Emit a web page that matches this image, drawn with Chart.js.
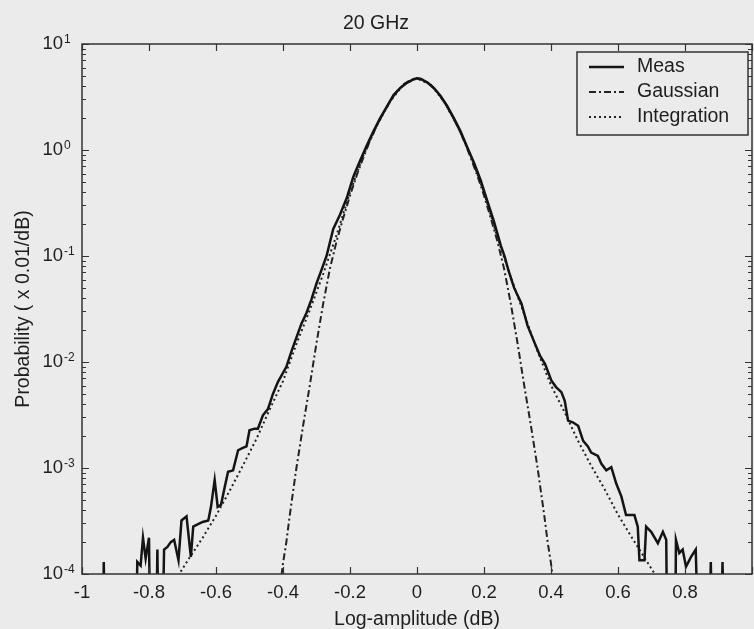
<!DOCTYPE html>
<html><head><meta charset="utf-8">
<style>html,body{margin:0;padding:0;background:#ebebeb;overflow:hidden}#wrap{width:754px;height:629px}</style>
<script src="https://cdn.jsdelivr.net/npm/chart.js@4.4.1/dist/chart.umd.min.js"></script>
</head><body><div id="wrap"><canvas id="c" width="754" height="629"></canvas></div>
<script>
const titleText = '20 GHz';
const xLabel = 'Log-amplitude (dB)';
const yLabel = 'Probability ( x 0.01/dB)';
const seriesNames = ['Meas', 'Gaussian', 'Integration'];
const xTicks = [-1, -0.8, -0.6, -0.4, -0.2, 0, 0.2, 0.4, 0.6, 0.8, 1];
const xTickLabels = ['-1', '-0.8', '-0.6', '-0.4', '-0.2', '0', '0.2', '0.4', '0.6', '0.8', ''];
const yTicks = [1e-4, 1e-3, 1e-2, 1e-1, 1, 10];
const yExponents = ['-4', '-3', '-2', '-1', '0', '1'];

const measX = [-0.95,-0.94,-0.935,-0.93,-0.85,-0.84,-0.835,-0.825,-0.818,-0.81,-0.8,-0.795,-0.78,-0.775,-0.77,-0.762,-0.755,-0.745,-0.735,-0.725,-0.712,-0.703,-0.688,-0.675,-0.668,-0.658,-0.64,-0.623,-0.615,-0.604,-0.595,-0.585,-0.574,-0.564,-0.549,-0.534,-0.52,-0.509,-0.5,-0.485,-0.475,-0.46,-0.445,-0.43,-0.415,-0.4,-0.39,-0.375,-0.36,-0.345,-0.33,-0.315,-0.3,-0.285,-0.27,-0.25,-0.23,-0.21,-0.19,-0.17,-0.15,-0.13,-0.11,-0.09,-0.07,-0.05,-0.03,-0.01,0,0.01,0.03,0.05,0.07,0.09,0.11,0.13,0.15,0.17,0.19,0.21,0.23,0.25,0.262,0.273,0.29,0.312,0.33,0.352,0.367,0.382,0.401,0.415,0.431,0.441,0.451,0.465,0.481,0.496,0.51,0.52,0.54,0.55,0.565,0.58,0.595,0.61,0.624,0.649,0.659,0.664,0.679,0.684,0.699,0.719,0.734,0.744,0.748,0.77,0.773,0.783,0.793,0.803,0.818,0.832,0.843,0.87,0.877,0.884,0.905,0.912,0.919,0.95];
const measY = [1e-5,1e-5,1.3e-4,1e-5,1e-5,1e-5,1.3e-4,1.2e-4,2.2e-4,1.4e-4,2.2e-4,1e-5,1e-5,1.7e-4,1e-5,1e-5,1.7e-4,1.8e-4,2.0e-4,2.1e-4,1.35e-4,3.2e-4,3.5e-4,1.45e-4,2.8e-4,2.9e-4,3.1e-4,3.2e-4,4.3e-4,7.7e-4,4.3e-4,4.5e-4,6.6e-4,9.2e-4,9.5e-4,1.47e-3,1.55e-3,1.6e-3,2.27e-3,2.35e-3,2.35e-3,3.14e-3,3.6e-3,5.0e-3,6.5e-3,7.9e-3,9.0e-3,1.25e-2,1.7e-2,2.3e-2,2.9e-2,3.9e-2,5.5e-2,7.4e-2,0.1,0.18,0.245,0.35,0.56,0.79,1.1,1.5,2.0,2.57,3.3,3.85,4.3,4.65,4.75,4.7,4.35,3.85,3.25,2.6,2.0,1.5,1.06,0.76,0.52,0.33,0.21,0.126,0.098,0.073,0.05,0.0355,0.022,0.0149,0.0115,0.0096,0.0067,0.0058,0.0052,0.0043,0.0028,0.0027,0.0025,0.0018,0.0016,0.0014,0.0013,0.0011,0.00095,0.00102,0.00071,0.00054,0.00036,0.00036,0.00028,0.000135,0.000135,0.00028,0.00025,0.000195,0.00025,0.00021,1e-5,1e-5,0.00021,0.000158,0.00017,0.000117,0.000145,0.00017,1e-5,1e-5,0.00013,1e-5,1e-5,0.00013,1e-5,1e-5];

const gaussX = [-0.41,-0.4,-0.39,-0.38,-0.36,-0.34,-0.32,-0.3,-0.28,-0.26,-0.24,-0.22,-0.2,-0.18,-0.16,-0.14,-0.12,-0.1,-0.08,-0.06,-0.04,-0.02,0,0.02,0.04,0.06,0.08,0.1,0.12,0.14,0.16,0.18,0.2,0.22,0.24,0.26,0.28,0.3,0.32,0.34,0.36,0.38,0.39,0.4,0.41];
const gaussY = [0.0000708,0.000126,0.0002,0.000355,0.001,0.00251,0.00603,0.0151,0.0355,0.0759,0.138,0.229,0.372,0.575,0.851,1.23,1.70,2.24,2.88,3.55,4.17,4.57,4.73,4.57,4.17,3.55,2.88,2.24,1.70,1.23,0.851,0.575,0.372,0.229,0.138,0.0759,0.0355,0.0151,0.00603,0.00251,0.001,0.000355,0.0002,0.000126,0.0000708];

const integX = [-0.76,-0.72,-0.68,-0.64,-0.6,-0.56,-0.52,-0.48,-0.44,-0.4,-0.36,-0.32,-0.28,-0.24,-0.2,-0.16,-0.12,-0.08,-0.04,0,0.04,0.08,0.12,0.16,0.2,0.24,0.28,0.32,0.36,0.4,0.44,0.48,0.52,0.56,0.6,0.64,0.68,0.72,0.76];
const integY = [0.000055,0.0000891,0.000141,0.000219,0.000355,0.000603,0.00105,0.00186,0.00355,0.00661,0.0148,0.0309,0.0676,0.158,0.398,0.891,1.70,2.88,4.17,4.73,4.17,2.88,1.70,0.891,0.398,0.15,0.0631,0.0282,0.0126,0.00603,0.00339,0.00182,0.00105,0.000631,0.000363,0.000224,0.000141,0.0000891,0.000055];

const FONT = "'Liberation Sans', Arial, Helvetica, sans-serif";
const INK = '#1e1e1e';
const AXIS = '#333333';

function pts(xs, ys) { return xs.map((x, i) => ({ x: x, y: ys[i] })); }

const framePlugin = {
  id: 'frame',
  afterDraw(chart) {
    const ctx = chart.ctx, a = chart.chartArea;
    const xs = chart.scales.x, ys = chart.scales.y;
    ctx.save();
    ctx.strokeStyle = AXIS;
    ctx.lineWidth = 1.5;
    ctx.strokeRect(a.left, a.top, a.right - a.left, a.bottom - a.top);
    ctx.lineWidth = 1.2;
    ctx.beginPath();
    xTicks.forEach(v => {
      const px = Math.round(xs.getPixelForValue(v)) + 0.5;
      ctx.moveTo(px, a.bottom); ctx.lineTo(px, a.bottom - 7);
      ctx.moveTo(px, a.top); ctx.lineTo(px, a.top + 7);
    });
    yTicks.forEach((v, i) => {
      const py = Math.round(ys.getPixelForValue(v)) + 0.5;
      ctx.moveTo(a.left, py); ctx.lineTo(a.left + 7, py);
      ctx.moveTo(a.right, py); ctx.lineTo(a.right - 7, py);
      if (i < yTicks.length - 1) {
        for (let k = 2; k <= 9; k++) {
          const qy = Math.round(ys.getPixelForValue(v * k)) + 0.5;
          ctx.moveTo(a.left, qy); ctx.lineTo(a.left + 4, qy);
          ctx.moveTo(a.right, qy); ctx.lineTo(a.right - 4, qy);
        }
      }
    });
    ctx.stroke();
    ctx.fillStyle = INK;
    ctx.font = '12px ' + FONT;
    ctx.textAlign = 'left';
    ctx.textBaseline = 'alphabetic';
    yTicks.forEach((v, i) => {
      const py = ys.getPixelForValue(v);
      ctx.fillText(yExponents[i], a.left - 18, py - 1);
    });
    const bx = 577, by = 52, bw = 171, bh = 83;
    ctx.fillStyle = '#ebebeb';
    ctx.fillRect(bx, by, bw, bh);
    ctx.strokeStyle = AXIS;
    ctx.lineWidth = 1.5;
    ctx.strokeRect(bx, by, bw, bh);
    ctx.font = '19.5px ' + FONT;
    ctx.textBaseline = 'middle';
    chart.data.datasets.forEach((ds, i) => {
      const ly = by + 15 + i * 25;
      ctx.save();
      ctx.strokeStyle = ds.borderColor;
      ctx.lineWidth = ds.borderWidth;
      ctx.setLineDash(ds.borderDash || []);
      ctx.beginPath(); ctx.moveTo(589, ly); ctx.lineTo(624, ly); ctx.stroke();
      ctx.restore();
      ctx.fillStyle = INK;
      ctx.fillText(ds.label, 637, ly);
    });
    ctx.restore();
  }
};

new Chart(document.getElementById('c'), {
  type: 'line',
  data: {
    datasets: [
      { label: seriesNames[0], data: pts(measX, measY), borderColor: '#141414', borderWidth: 2.5, pointRadius: 0, tension: 0, fill: false },
      { label: seriesNames[1], data: pts(gaussX, gaussY), borderColor: '#222222', borderWidth: 2, borderDash: [7, 3, 2, 3], pointRadius: 0, tension: 0, fill: false },
      { label: seriesNames[2], data: pts(integX, integY), borderColor: '#222222', borderWidth: 2, borderDash: [2, 3], pointRadius: 0, tension: 0, fill: false }
    ]
  },
  options: {
    responsive: false,
    animation: false,
    events: [],
    layout: { padding: { top: 0, right: 2, left: 0, bottom: 0 } },
    plugins: {
      legend: { display: false },
      tooltip: { enabled: false },
      title: { display: true, text: titleText, color: INK, font: { family: FONT, size: 19.5, weight: 'normal' }, padding: { top: 12, bottom: 8.6 } }
    },
    scales: {
      x: {
        type: 'linear', min: -1, max: 1,
        afterBuildTicks: s => { s.ticks = xTicks.map(v => ({ value: v })); },
        afterFit: s => { s.height = 55; s.paddingLeft = 0; s.paddingRight = 0; },
        grid: { display: false, drawTicks: false },
        border: { display: false },
        ticks: { color: INK, font: { family: FONT, size: 18.5 }, padding: 8, maxRotation: 0, autoSkip: false,
          callback: (v, i) => xTickLabels[i] },
        title: { display: true, text: xLabel, color: INK, font: { family: FONT, size: 19.5, lineHeight: 1 }, padding: { top: 0, bottom: 0 } }
      },
      y: {
        type: 'logarithmic', min: 1e-4, max: 10,
        afterBuildTicks: s => { s.ticks = yTicks.map(v => ({ value: v })); },
        afterFit: s => { s.width = 82; s.paddingTop = 0; s.paddingBottom = 0; },
        grid: { display: false, drawTicks: false },
        border: { display: false },
        ticks: { color: INK, font: { family: FONT, size: 18.5 }, padding: 19, autoSkip: false, callback: () => '10' },
        title: { display: true, text: yLabel, color: INK, font: { family: FONT, size: 19.5 }, padding: { top: 12, bottom: 0 } }
      }
    }
  },
  plugins: [framePlugin]
});
</script>
</body></html>
